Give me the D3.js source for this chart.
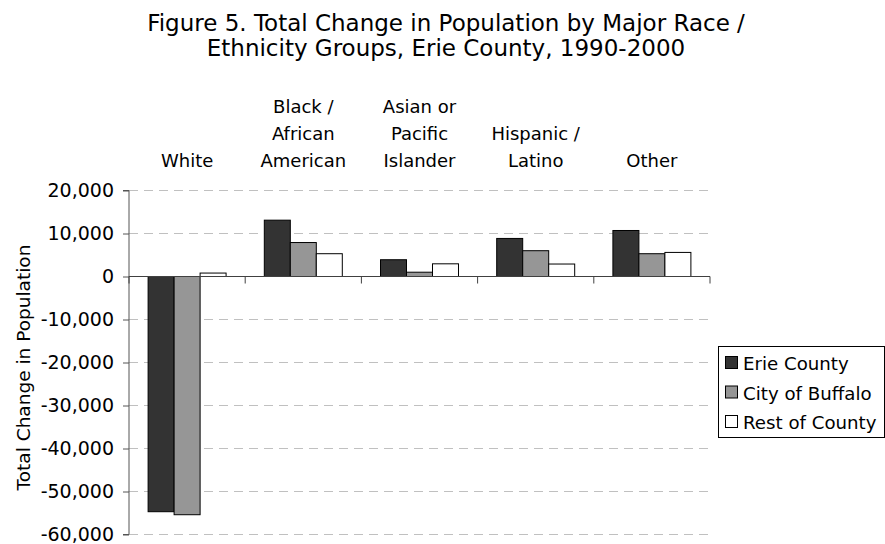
<!DOCTYPE html>
<html>
<head>
<meta charset="utf-8">
<script src="https://cdn.jsdelivr.net/npm/d3@7"></script>
<style>
  html, body { margin: 0; padding: 0; background: #fff; }
  svg { display: block; }
  text { font-family: "DejaVu Sans", sans-serif; fill: #000; }
</style>
</head>
<body>
<svg id="chart" width="885" height="544"></svg>
<script>
const categories = ["White", "Black / African American", "Asian or Pacific Islander", "Hispanic / Latino", "Other"];
const categoryLines = [["White"], ["Black /", "African", "American"], ["Asian or", "Pacific", "Islander"], ["Hispanic /", "Latino"], ["Other"]];
const seriesNames = ["Erie County", "City of Buffalo", "Rest of County"];
const erieCounty = [-54700, 13100, 3900, 8850, 10700];
const cityOfBuffalo = [-55400, 7900, 1000, 6000, 5300];
const restOfCounty = [800, 5300, 2950, 2900, 5600];
const yTicks = [20000, 10000, 0, -10000, -20000, -30000, -40000, -50000, -60000];
const titleLines = ["Figure 5. Total Change in Population by Major Race /", "Ethnicity Groups, Erie County, 1990-2000"];
const yAxisTitle = "Total Change in Population";
const colors = ["#333333", "#969696", "#ffffff"];

const seriesValues = [erieCounty, cityOfBuffalo, restOfCounty];
const svg = d3.select("#chart");

const plot = { left: 129, right: 710, top: 190.5, bottom: 534.5 };

const x0 = d3.scaleBand().domain(categories).range([plot.left, plot.right]).paddingInner(0).paddingOuter(0);
const x1 = d3.scaleBand().domain(seriesNames).range([0, x0.bandwidth()]).paddingInner(0).paddingOuter(0.735);
const y = d3.scaleLinear().domain([-60000, 20000]).range([plot.bottom, plot.top]);

// gridlines
svg.append("g").selectAll("line").data(yTicks.filter(d => d !== 0)).join("line")
  .attr("x1", plot.left).attr("x2", plot.right)
  .attr("y1", d => y(d)).attr("y2", d => y(d))
  .attr("stroke", "#c0c0c0").attr("stroke-width", 1).attr("stroke-dasharray", "9,6");

// bars
const groups = svg.append("g").selectAll("g").data(categories).join("g")
  .attr("transform", d => `translate(${x0(d)},0)`);
groups.selectAll("rect")
  .data((c, i) => seriesNames.map((s, j) => ({ s, j, v: seriesValues[j][i] })))
  .join("rect")
  .attr("x", d => x1(d.s))
  .attr("width", x1.bandwidth())
  .attr("y", d => Math.min(y(d.v), y(0)))
  .attr("height", d => Math.abs(y(d.v) - y(0)))
  .attr("fill", d => colors[d.j])
  .attr("stroke", "#000").attr("stroke-width", 1);

// y axis
const fmt = d3.format(",.0f");
const yAxis = d3.axisLeft(y).tickValues(yTicks).tickSize(6).tickPadding(9)
  .tickFormat(d => fmt(d).replace("\u2212", "-"));
const gy = svg.append("g").attr("transform", `translate(${plot.left},0)`).call(yAxis);
gy.select(".domain").attr("stroke", "#555").attr("d", `M-6,${plot.top}H0V${plot.bottom}H-6`);
gy.selectAll(".tick line").attr("stroke", "#555");
gy.selectAll(".tick text").attr("font-size", 19).attr("fill", "#000")
  .style("font-family", '"DejaVu Sans", sans-serif');

// x axis at zero
svg.append("line").attr("x1", plot.left).attr("x2", plot.right)
  .attr("y1", y(0)).attr("y2", y(0)).attr("stroke", "#404040").attr("stroke-width", 1);
const boundaries = categories.map(c => x0(c)).concat([plot.right]);
svg.append("g").selectAll("line").data(boundaries).join("line")
  .attr("x1", d => d).attr("x2", d => d)
  .attr("y1", y(0)).attr("y2", y(0) + 7)
  .attr("stroke", "#404040");

// category labels on top
const lineH = 27;
const lastBaseline = 167;
svg.append("g").selectAll("text").data(categories).join("text")
  .attr("text-anchor", "middle").attr("font-size", 18)
  .each(function(d, i) {
    const lines = categoryLines[i];
    const cx = x0(d) + x0.bandwidth() / 2;
    d3.select(this).selectAll("tspan").data(lines).join("tspan")
      .attr("x", cx)
      .attr("y", (l, k) => lastBaseline - (lines.length - 1 - k) * lineH)
      .text(l => l);
  });

// title
svg.append("g").selectAll("text").data(titleLines).join("text")
  .attr("x", 446).attr("y", (d, i) => 31 + i * 25)
  .attr("text-anchor", "middle").attr("font-size", 23)
  .text(d => d);

// y axis title
svg.append("text")
  .attr("transform", `translate(30,${(plot.top + plot.bottom) / 2 + 5}) rotate(-90)`)
  .attr("text-anchor", "middle").attr("font-size", 18.5)
  .text(yAxisTitle);

// legend
const lg = svg.append("g").attr("transform", "translate(718,346)");
lg.append("rect").attr("x", 0.5).attr("y", 0.5).attr("width", 166).attr("height", 91)
  .attr("fill", "#fff").attr("stroke", "#000");
const li = lg.selectAll("g").data(seriesNames).join("g")
  .attr("transform", (d, i) => `translate(0,${17 + i * 29.5})`);
li.append("rect").attr("x", 7.5).attr("y", -6.5).attr("width", 12).attr("height", 12)
  .attr("fill", (d, i) => colors[i]).attr("stroke", "#000");
li.append("text").attr("x", 25).attr("y", 7).attr("font-size", 18.2).text(d => d);
</script>
</body>
</html>
